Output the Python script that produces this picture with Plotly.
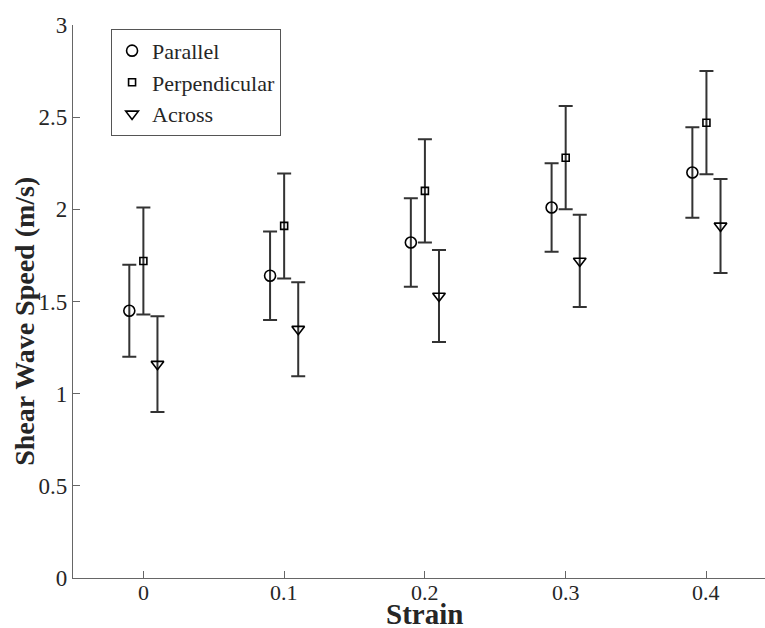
import plotly.graph_objects as go

strain = [0.0, 0.1, 0.2, 0.3, 0.4]
offset = 0.01

parallel = [1.45, 1.64, 1.82, 2.01, 2.20]
parallel_err = [0.25, 0.24, 0.24, 0.24, 0.245]
perpendicular = [1.72, 1.91, 2.10, 2.28, 2.47]
perpendicular_err = [0.29, 0.285, 0.28, 0.28, 0.28]
across = [1.16, 1.35, 1.53, 1.72, 1.91]
across_err = [0.26, 0.255, 0.25, 0.25, 0.255]

x_ticks = [0, 0.1, 0.2, 0.3, 0.4]
x_tick_labels = ["0", "0.1", "0.2", "0.3", "0.4"]
y_ticks = [0, 0.5, 1, 1.5, 2, 2.5, 3]
y_tick_labels = ["0", "0.5", "1", "1.5", "2", "2.5", "3"]

font_family = "Liberation Serif"
text_color = "#262626"
err_color = "#333333"

fig = go.Figure()
series = [
    ("Parallel", [s - offset for s in strain], parallel, parallel_err, "circle-open", 11),
    ("Perpendicular", strain, perpendicular, perpendicular_err, "square-open", 7),
    ("Across", [s + offset for s in strain], across, across_err, "triangle-down-open", 11),
]
for name, xs, ys, es, sym, size in series:
    fig.add_trace(go.Scatter(
        x=xs, y=ys, mode="markers", name=name,
        marker=dict(symbol=sym, size=size, color="black", line=dict(width=1.6, color="black")),
        error_y=dict(type="data", array=es, visible=True, color=err_color, thickness=2, width=7),
    ))

annotations = [
    dict(text=lab, x=v, y=0, xref="x", yref="paper", yshift=-1, yanchor="top",
         showarrow=False, borderpad=0,
         font=dict(family=font_family, size=22, color=text_color))
    for v, lab in zip(x_ticks, x_tick_labels)
]
annotations += [
    dict(text="<b>Strain</b>", x=0.2, y=0, xref="x", yref="paper",
         yshift=-36, yanchor="middle", showarrow=False, borderpad=0,
         font=dict(family=font_family, size=29, color=text_color)),
    dict(text="<b>Shear Wave Speed (m/s)</b>", x=0, xref="paper", xshift=-48,
         xanchor="center", yanchor="middle",
         y=1.39, yref="y", textangle=-90, showarrow=False,
         font=dict(family=font_family, size=28, color=text_color)),
]

fig.update_layout(
    width=765, height=628,
    margin=dict(l=73, r=0, t=25, b=50),
    paper_bgcolor="white", plot_bgcolor="white",
    font=dict(family=font_family, color=text_color, size=22),
    showlegend=True,
    legend=dict(
        x=0.055, y=0.993, xanchor="left", yanchor="top",
        bordercolor="#555555", borderwidth=1, bgcolor="white",
        font=dict(family=font_family, size=22, color=text_color),
        itemsizing="trace", itemwidth=30, tracegroupgap=0,
    ),
    xaxis=dict(
        range=[-0.05, 0.4416], tickvals=x_ticks, showticklabels=False,
        showline=True, linecolor="#666666", linewidth=1.2,
        ticks="inside", ticklen=7, tickcolor="#666666", showgrid=False, zeroline=False,
    ),
    yaxis=dict(
        range=[0, 3], tickvals=y_ticks, ticktext=y_tick_labels,
        showline=True, linecolor="#666666", linewidth=1.2,
        ticks="inside", ticklen=7, tickcolor="#666666", showgrid=False, zeroline=False,
        tickfont=dict(family=font_family, size=23, color=text_color),
    ),
    annotations=annotations,
)

fig.write_html("out.html")
